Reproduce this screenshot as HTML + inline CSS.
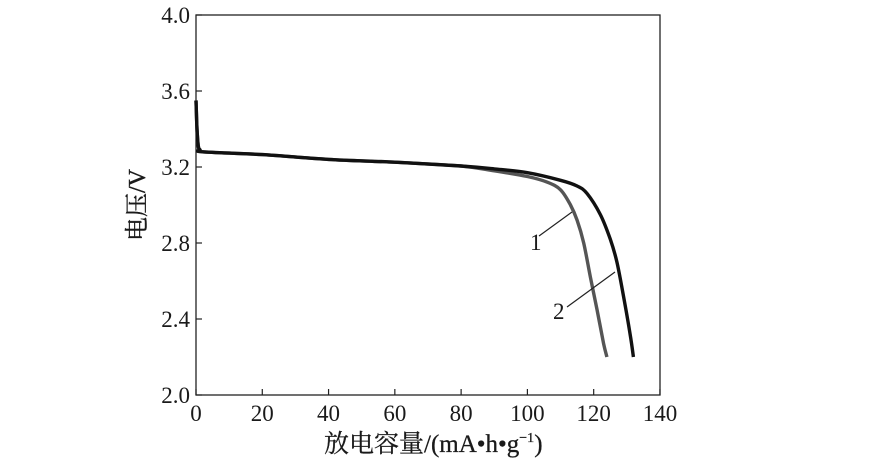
<!DOCTYPE html>
<html><head><meta charset="utf-8"><style>
body{margin:0;background:#fff}
svg{display:block}
text{font-family:"Liberation Serif","Noto Serif CJK SC",serif;fill:#1a1a1a}
</style></head><body>
<svg id="s" width="877" height="467" xmlns="http://www.w3.org/2000/svg">
<rect x="196" y="15" width="464" height="380" fill="none" stroke="#222" stroke-width="1.3"/>
<g id="ticks" stroke="#222" stroke-width="1.2"></g>
<g id="lab" font-size="23"></g>
<path id="c1" fill="none" stroke="#555" stroke-width="3.4" stroke-linejoin="round"/>
<path id="c2" fill="none" stroke="#111" stroke-width="3.4" stroke-linejoin="round"/>
<line x1="539" y1="236" x2="572" y2="212" stroke="#222" stroke-width="1.2"/>
<line x1="567" y1="307" x2="615" y2="272" stroke="#222" stroke-width="1.2"/>
<text x="530" y="250" font-size="23">1</text>
<text x="553" y="319" font-size="23">2</text>
<text x="324" y="452" font-size="25" stroke="#1a1a1a" stroke-width="0.3">放电容量/(mA•h•g<tspan font-size="14" dy="-10">−1</tspan><tspan dy="10">)</tspan></text>
<text transform="translate(145,205) rotate(-90)" text-anchor="middle" font-size="24" stroke="#1a1a1a" stroke-width="0.4">电压/V</text>
</svg>
<script>
const X=c=>196+3.314*c, Y=v=>395-190*(v-2);
const t=document.getElementById('ticks'),l=document.getElementById('lab');
let h='',g='';
for(let c=0;c<=140;c+=20){h+=`<line x1="${X(c)}" y1="395" x2="${X(c)}" y2="389"/>`;g+=`<text x="${X(c)}" y="421" text-anchor="middle">${c}</text>`;}
for(let i=0;i<=5;i++){let v=2+0.4*i;h+=`<line x1="196" y1="${Y(v)}" x2="202" y2="${Y(v)}"/>`;g+=`<text x="190" y="${Y(v)+8}" text-anchor="end">${v.toFixed(1)}</text>`;}
t.innerHTML=h;l.innerHTML=g;
const base=[[0,3.55],[0.3,3.4],[0.7,3.31],[1.2,3.29],[2,3.28],[20,3.265],[40,3.24],[60,3.225],[80,3.205]];
const b=base.concat([[90,3.19],[100,3.17],[110,3.13],[115,3.1],[118,3.06],[122,2.95],[125,2.82],[127,2.7],[129,2.52],[131,2.32],[132,2.2]]);
const a=base.concat([[90,3.18],[100,3.15],[106,3.12],[110,3.08],[113,3.0],[115,2.92],[117,2.8],[119,2.62],[121,2.45],[123,2.27],[124,2.2]]);
const p=d=>{const P=d.map(q=>[X(q[0]),Y(q[1])]);let s='M'+P[0].join(',');
for(let i=0;i<P.length-1;i++){const p0=P[i-1]||P[i],p1=P[i],p2=P[i+1],p3=P[i+2]||p2;
const c1=[p1[0]+(p2[0]-p0[0])/6,p1[1]+(p2[1]-p0[1])/6],c2=[p2[0]-(p3[0]-p1[0])/6,p2[1]-(p3[1]-p1[1])/6];
s+='C'+c1.map(v=>v.toFixed(1))+' '+c2.map(v=>v.toFixed(1))+' '+p2.map(v=>v.toFixed(1));}return s;};
document.getElementById('c1').setAttribute('d',p(a));
document.getElementById('c2').setAttribute('d',p(b));
</script>
</body></html>
